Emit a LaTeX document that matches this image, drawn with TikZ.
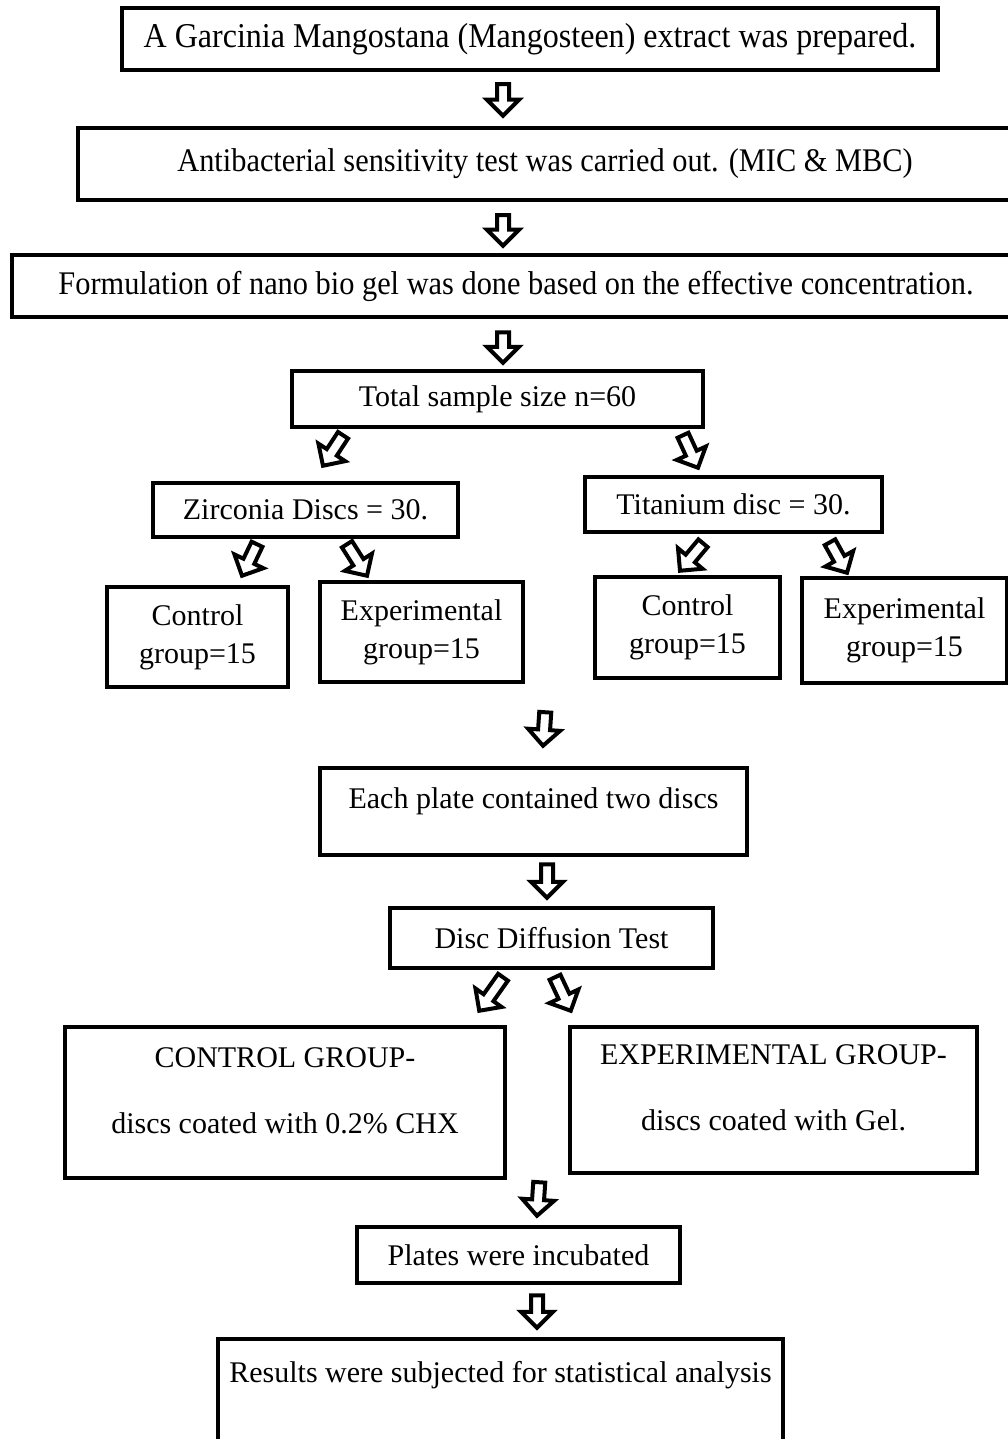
\documentclass[tikz,border=0pt]{standalone}
\usepackage{fontspec}
\setmainfont{Liberation Serif}
\newfontfamily\tallserif[FakeStretch=0.92]{Liberation Serif}
\usetikzlibrary{calc}

\tikzset{
  box/.style={draw,line width=4.5pt,inner sep=0pt,align=center,
    font=\fontsize{30}{36}\selectfont},
  tallbox/.style={box,font=\tallserif\fontsize{33}{40}\selectfont},
  hollowarrow/.style={draw,fill=white,line width=4pt,line join=miter}
}
% hollow block arrow from #1 to #2
\newcommand{\flowarrow}[2]{%
  \coordinate (fa-s) at (#1);
  \coordinate (fa-e) at (#2);
  \coordinate (fa-b) at ($(fa-e)!16pt!(fa-s)$);
  \draw[hollowarrow] ($(fa-s)!6pt!90:(fa-e)$) -- ($(fa-b)!6pt!90:(fa-e)$)
    -- ($(fa-b)!16pt!90:(fa-e)$) -- (fa-e) -- ($(fa-b)!16pt!-90:(fa-e)$)
    -- ($(fa-b)!6pt!-90:(fa-e)$) -- ($(fa-s)!6pt!-90:(fa-e)$) -- cycle;
}

\begin{document}
\begin{tikzpicture}[x=1pt,y=-1pt]
	\clip (0,0) rectangle (1008,1439);
	\fill[white] (0,0) rectangle (1008,1439);
	%
	\node[tallbox,minimum width=816,minimum height=62,font=\tallserif\fontsize{34.8}{40}\selectfont] (extract) at (530,39) {A Garcinia Mangostana (Mangosteen) extract was prepared.};
	\node[tallbox,minimum width=934,minimum height=72] (sens) at (545,164) {Antibacterial sensitivity test was carried out. (MIC \& MBC)};
	\node[tallbox,minimum width=1008,minimum height=62] (formul) at (516,286) {Formulation of nano bio gel was done based on the effective concentration.};
	\node[box,minimum width=411,minimum height=56] (total) at (497.5,399) {Total sample size n=60};
	\node[box,minimum width=305,minimum height=54] (zirc) at (305.5,510) {Zirconia Discs = 30.};
	\node[box,minimum width=297,minimum height=55] (tita) at (733.5,504.5) {Titanium disc = 30.};
	\node[box,minimum width=181,minimum height=100] (zctrl) at (197.5,637) {Control\\[2pt]group=15};
	\node[box,minimum width=203,minimum height=100] (zexp) at (421.5,632) {Experimental\\[2pt]group=15};
	\node[box,minimum width=185,minimum height=101] (tctrl) at (687.5,627.5) {Control\\[2pt]group=15};
	\node[box,minimum width=205,minimum height=105] (texp) at (904.5,630.5) {Experimental\\[2pt]group=15};
	\node[box,minimum width=427,minimum height=87,text height=21,text depth=28] (plate) at (533.5,811.5) {Each plate contained two discs};
	\node[box,minimum width=323,minimum height=60] (disc) at (551.5,938) {Disc Diffusion Test};
	\node[box,minimum width=440,minimum height=151,text height=87,text depth=26] (cgroup) at (285,1102.5) {CONTROL GROUP-\\[30pt]discs coated with 0.2\% CHX};
	\node[box,minimum width=407,minimum height=146,text height=87,text depth=26] (egroup) at (773.5,1100) {EXPERIMENTAL GROUP-\\[30pt]discs coated with Gel.};
	\node[box,minimum width=323,minimum height=56] (plates) at (518.5,1255) {Plates were incubated};
	\node[box,minimum width=565,minimum height=131,text height=21,text depth=66] (results) at (500.5,1404.5) {Results were subjected for statistical analysis};
	%
	\flowarrow{$(extract.south)+(-27,12)$}{$(sens.north)+(-42,-10)$}
	\flowarrow{$(sens.south)+(-42,13)$}{$(formul.north)+(-13,-7)$}
	\flowarrow{$(formul.south)+(-13,13)$}{$(total.north)+(5.5,-6)$}
	\flowarrow{$(total.south)+(-154.5,6)$}{$(zirc.north)+(17.5,-15)$}
	\flowarrow{$(total.south)+(185.5,6)$}{$(tita.north)+(-35.5,-7)$}
	\flowarrow{$(zirc.south)+(-48.5,5)$}{$(zctrl.north)+(44.5,-9)$}
	\flowarrow{$(zirc.south)+(41.5,5)$}{$(zexp.north)+(-54.5,-4)$}
	\flowarrow{$(tita.south)+(-30.5,9)$}{$(tctrl.north)+(-7.5,-4)$}
	\flowarrow{$(tita.south)+(96.5,8)$}{$(texp.north)+(-57.5,-3)$}
	\flowarrow{$(zexp.south east)+(20,28)$}{$(plate.north)+(9.5,-20)$}
	\flowarrow{$(plate.south)+(13.5,7)$}{$(disc.north)+(-4.5,-8)$}
	\flowarrow{$(disc.south)+(-48.5,7)$}{$(cgroup.north east)+(-28,-14)$}
	\flowarrow{$(disc.south)+(3.5,7)$}{$(egroup.north west)+(3,-14)$}
	\flowarrow{$(cgroup.south east)+(32,2)$}{$(plates.north)+(18.5,-9)$}
	\flowarrow{$(plates.south)+(18.5,10)$}{$(results.north)+(36.5,-9)$}
\end{tikzpicture}
\end{document}
